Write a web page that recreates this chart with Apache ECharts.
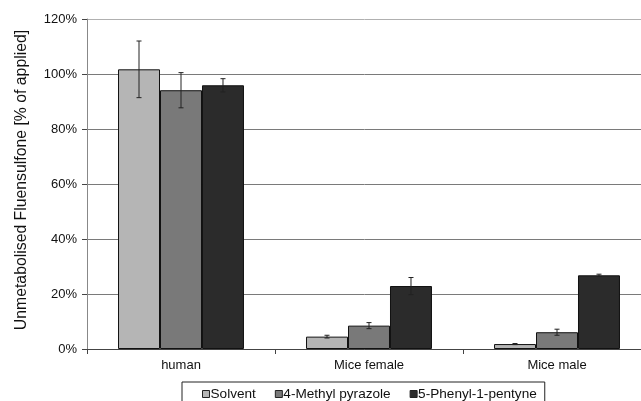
<!DOCTYPE html>
<html>
<head>
<meta charset="utf-8">
<script src="https://cdn.jsdelivr.net/npm/echarts@6/dist/echarts.min.js"></script>
<style>html,body{margin:0;padding:0;background:#fff;}#c{width:641px;height:401px;}</style>
</head>
<body>
<div id="c"></div>
<script>
var categories = ['human', 'Mice female', 'Mice male'];
var seriesNames = ['Solvent', '4-Methyl pyrazole', '5-Phenyl-1-pentyne'];
var solvent = [101.7, 4.5, 1.8];
var methylPyrazole = [94.1, 8.5, 6.1];
var phenylPentyne = [95.9, 22.9, 26.8];
var solventErr = [10.3, 0.5, 0.2];
var methylPyrazoleErr = [6.4, 1.1, 1.1];
var phenylPentyneErr = [2.4, 3.1, 0.4];
var yTicks = [0, 20, 40, 60, 80, 100, 120];

var colors = ['#b5b5b5', '#797979', '#2b2b2b'];
var means = [solvent, methylPyrazole, phenylPentyne];
var errs = [solventErr, methylPyrazoleErr, phenylPentyneErr];
var gap = 0.33;

function errRender(si) {
  return function (params, api) {
    var ci = api.value(0);
    var lo = api.coord([ci, api.value(1)]);
    var hi = api.coord([ci, api.value(2)]);
    var band = api.size([1, 0])[0];
    var bw = band * (1 - gap) / 3;
    var x = lo[0] + (si - 1) * bw;
    var cap = 2.5;
    var st = { stroke: '#222', lineWidth: 1 };
    return {
      type: 'group',
      children: [
        { type: 'line', shape: { x1: x, y1: lo[1], x2: x, y2: hi[1] }, style: st },
        { type: 'line', shape: { x1: x - cap, y1: lo[1], x2: x + cap, y2: lo[1] }, style: st },
        { type: 'line', shape: { x1: x - cap, y1: hi[1], x2: x + cap, y2: hi[1] }, style: st }
      ]
    };
  };
}

var series = [];
for (var i = 0; i < 3; i++) {
  series.push({
    name: seriesNames[i],
    type: 'bar',
    data: means[i],
    barGap: 0,
    barCategoryGap: (gap * 100) + '%',
    itemStyle: { color: colors[i], borderColor: '#111', borderWidth: 1 },
    z: 2
  });
}
for (var j = 0; j < 3; j++) {
  var d = [];
  for (var k = 0; k < categories.length; k++) {
    d.push([k, means[j][k] - errs[j][k], means[j][k] + errs[j][k]]);
  }
  series.push({
    type: 'custom',
    renderItem: errRender(j),
    data: d,
    encode: { x: 0, y: [1, 2] },
    z: 5,
    silent: true
  });
}

var chart = echarts.init(document.getElementById('c'), null, { renderer: 'canvas' });
chart.setOption({
  animation: false,
  backgroundColor: '#fff',
  textStyle: { fontFamily: 'Liberation Sans, Arial, sans-serif' },
  grid: { left: 87, top: 19, width: 564, height: 330, containLabel: false, outerBoundsMode: 'none' },
  legend: {
    data: seriesNames,
    left: 182,
    top: 382,
    itemWidth: 7,
    itemHeight: 7,
    itemGap: 19,
    icon: 'rect',
    borderColor: '#222',
    borderWidth: 1,
    borderRadius: 0,
    padding: [5, 8, 12, 20],
    itemStyle: { borderColor: '#222', borderWidth: 1 },
    textStyle: { fontSize: 13.6, color: '#111', fontFamily: 'Liberation Sans, Arial, sans-serif', padding: [0, 0, 0, -4] }
  },
  xAxis: {
    type: 'category',
    data: categories,
    axisLine: { lineStyle: { color: '#444', width: 1 } },
    axisTick: { show: true, length: 5, lineStyle: { color: '#444' } },
    axisLabel: { fontSize: 13, color: '#111', margin: 10 }
  },
  yAxis: {
    type: 'value',
    min: 0,
    max: 120,
    interval: 20,
    name: 'Unmetabolised Fluensulfone [% of applied]',
    nameLocation: 'middle',
    nameGap: 57,
    nameTextStyle: { fontSize: 15.8, color: '#111', padding: [0, 0, 0, 8] },
    axisLine: { show: true, lineStyle: { color: '#888', width: 1 } },
    axisTick: { show: true, length: 5, lineStyle: { color: '#444' } },
    axisLabel: { fontSize: 13, color: '#111', margin: 10, formatter: function (v) { return yTicks.indexOf(v) >= 0 ? v + '%' : ''; } },
    splitLine: { lineStyle: { color: ['#7a7a7a', '#7a7a7a', '#7a7a7a', '#7a7a7a', '#7a7a7a', '#7a7a7a', '#b0b0b0'], width: 1 } }
  },
  series: series
});
</script>
</body>
</html>
